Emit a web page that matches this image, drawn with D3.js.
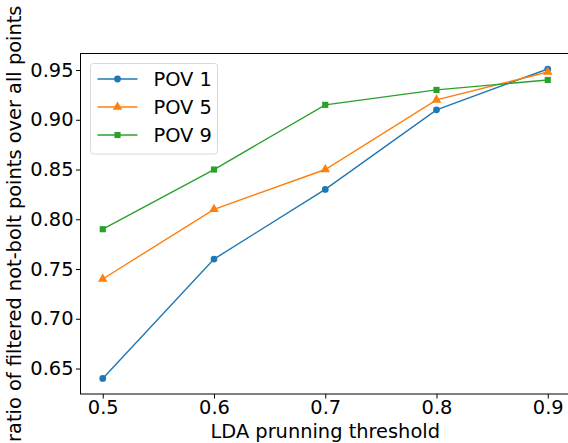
<!DOCTYPE html>
<html>
<head>
<meta charset="utf-8">
<script src="https://cdn.jsdelivr.net/npm/d3@7"></script>
<style>
  body { margin: 0; background: #fff; }
  svg { display: block; font-family: "DejaVu Sans", sans-serif; }
</style>
</head>
<body>
<div id="chart"></div>
<script>
// LDA threshold vs ratio of filtered points
const thresholds = [0.5, 0.6, 0.7, 0.8, 0.9];
const pov1 = [0.64, 0.76, 0.83, 0.91, 0.951];
const pov5 = [0.74, 0.81, 0.85, 0.92, 0.948];
const pov9 = [0.79, 0.85, 0.915, 0.93, 0.94];
const seriesNames = ["POV 1", "POV 5", "POV 9"];
const xTicks = [0.5, 0.6, 0.7, 0.8, 0.9];
const yTicks = [0.65, 0.70, 0.75, 0.80, 0.85, 0.90, 0.95];

const series = [
  { name: seriesNames[0], values: pov1, color: "#1f77b4", marker: d3.symbolCircle, size: 36 },
  { name: seriesNames[1], values: pov5, color: "#ff7f0e", marker: d3.symbolTriangle, size: 40 },
  { name: seriesNames[2], values: pov9, color: "#2ca02c", marker: d3.symbolSquare, size: 38 }
];

const W = 568, H = 443;
const FS = 19.4;
const margin = { top: 53.5, right: -2, bottom: 49, left: 80.5 },
  width = W - margin.left - margin.right,
  height = H - margin.top - margin.bottom;

const svg = d3.select("#chart").append("svg")
  .attr("width", W).attr("height", H);

const g = svg.append("g")
  .attr("transform", `translate(${margin.left},${margin.top})`);

const x = d3.scaleLinear().domain([0.48, 0.92]).range([0, width]);
const y = d3.scaleLinear().domain([0.6244, 0.9666]).range([height, 0]);

// axes
const xAxis = g.append("g")
  .attr("transform", `translate(0,${height})`)
  .call(d3.axisBottom(x).tickValues(xTicks).tickFormat(d3.format(".1f")).tickSize(4.5).tickPadding(1.5));
const yAxis = g.append("g")
  .call(d3.axisLeft(y).tickValues(yTicks).tickFormat(d3.format(".2f")).tickSize(4.5).tickPadding(2.5));

[xAxis, yAxis].forEach(a => {
  a.selectAll("text").attr("font-size", FS).attr("font-family", "DejaVu Sans").attr("fill", "#000");
  a.selectAll("line").attr("stroke", "#000").attr("stroke-width", 1);
  a.select(".domain").remove();
});

// spines
g.append("rect")
  .attr("x", 0).attr("y", 0).attr("width", width).attr("height", height)
  .attr("fill", "none").attr("stroke", "#000").attr("stroke-width", 1);

// lines + markers
const line = d3.line().x((d, i) => x(thresholds[i])).y(d => y(d));

series.forEach(s => {
  g.append("path")
    .datum(s.values)
    .attr("d", line)
    .attr("fill", "none")
    .attr("stroke", s.color)
    .attr("stroke-width", 1.4);
  g.selectAll(null)
    .data(s.values)
    .join("path")
    .attr("transform", (d, i) => `translate(${x(thresholds[i])},${y(d)})`)
    .attr("d", d3.symbol().type(s.marker).size(s.size))
    .attr("fill", s.color);
});

// legend
const legend = svg.append("g").attr("transform", "translate(90.5,63.5)");
legend.append("rect")
  .attr("width", 127).attr("height", 90.5).attr("rx", 3)
  .attr("fill", "#fff").attr("fill-opacity", 0.8)
  .attr("stroke", "#d9d9d9").attr("stroke-width", 1);

series.forEach((s, i) => {
  const ly = 15.5 + i * 28;
  legend.append("line")
    .attr("x1", 7).attr("x2", 47).attr("y1", ly).attr("y2", ly)
    .attr("stroke", s.color).attr("stroke-width", 1.4);
  legend.append("path")
    .attr("transform", `translate(27,${ly})`)
    .attr("d", d3.symbol().type(s.marker).size(s.size))
    .attr("fill", s.color);
  legend.append("text")
    .attr("x", 63).attr("y", ly).attr("dy", "0.36em")
    .attr("font-size", FS).attr("fill", "#000")
    .text(s.name);
});

// axis labels
svg.append("text")
  .attr("x", margin.left + x(0.7)).attr("y", 437.5)
  .attr("text-anchor", "middle")
  .attr("font-size", FS)
  .text("LDA prunning threshold");

svg.append("text")
  .attr("transform", `translate(21,${margin.top + height / 2}) rotate(-90)`)
  .attr("text-anchor", "middle")
  .attr("font-size", FS)
  .text("ratio of filtered not-bolt points over all points");
</script>
</body>
</html>
